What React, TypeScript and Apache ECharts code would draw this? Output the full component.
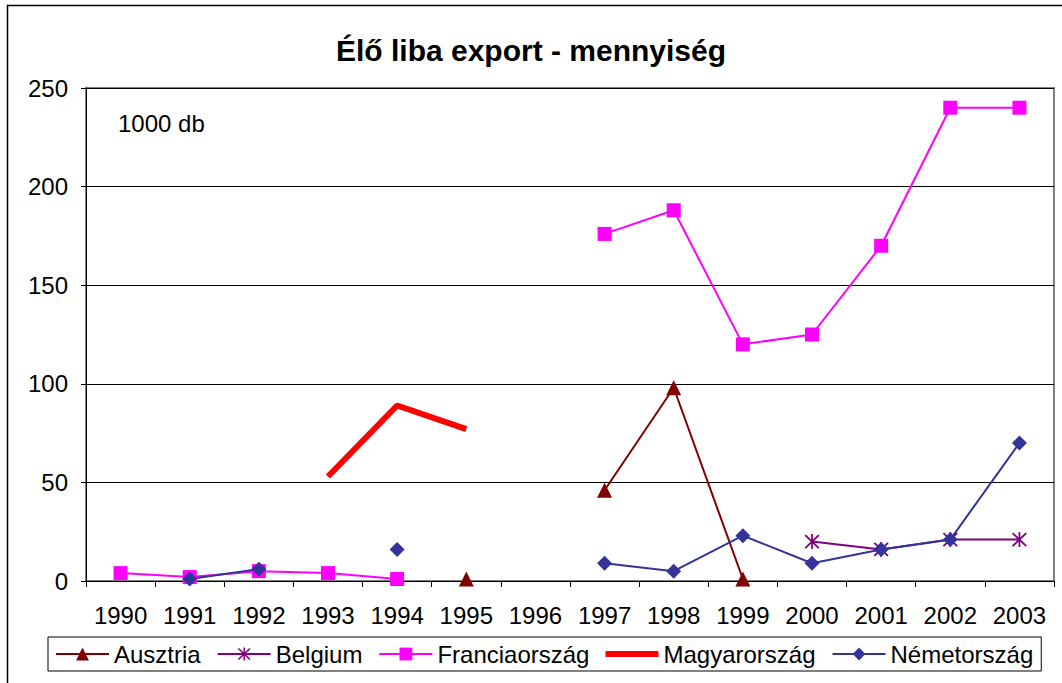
import React, { useEffect, useRef } from "react";
import * as echarts from "echarts";

const years = ["1990","1991","1992","1993","1994","1995","1996","1997","1998","1999","2000","2001","2002","2003"];
const ausztria = [null, null, null, null, null, 1, null, 46, 98, 1, null, null, null, null];
const belgium = [null, null, null, null, null, null, null, null, null, null, 20, 16, 21, 21];
const francia = [4, 2, 5, 4, 1, null, null, 176, 188, 120, 125, 170, 240, 240];
const magyar = [null, null, null, 53, 89, 77, null, null, null, null, null, null, null, null];
const nemet = [null, 1, 6, null, 16, null, null, 9, 5, 23, 9, 16, 21, 70];

const FONT = "'Liberation Sans', Arial, sans-serif";
const asterisk =
  "path://M9 1H11V19H9Z M1.5 3L3 1.5L18.5 17L17 18.5Z M17 1.5L18.5 3L3 18.5L1.5 17Z";

export default function App() {
  const ref = useRef<HTMLDivElement>(null);
  useEffect(() => {
    const chart = echarts.init(ref.current!, null, { renderer: "svg" });
    chart.setOption({
      animation: false,
      backgroundColor: "#fff",
      textStyle: { fontFamily: FONT },
      title: {
        text: "Élő liba export - mennyiség",
        left: "center",
        top: 30,
        textStyle: { fontSize: 30, fontWeight: "bold", color: "#000", fontFamily: FONT },
      },
      graphic: [
        {
          type: "rect",
          shape: { x: 7.5, y: 5.5, width: 1070, height: 690 },
          style: { fill: "none", stroke: "#000", lineWidth: 1.5 },
          silent: true,
        },
        {
          type: "text",
          left: 118,
          top: 111,
          style: { text: "1000 db", font: `24px ${FONT}`, fill: "#000" },
        },
      ],
      grid: {
        left: 86,
        right: 8,
        top: 88,
        bottom: 102,
        show: true,
        borderColor: "#808080",
        borderWidth: 2,
        backgroundColor: "transparent",
      },
      legend: {
        top: 637,
        left: 48,
        itemWidth: 53,
        itemHeight: 16,
        itemGap: 16,
        padding: [5, 8, 5, 7],
        borderColor: "#000",
        borderWidth: 1,
        borderRadius: 0,
        textStyle: { fontSize: 24, color: "#000", fontFamily: FONT, padding: [0, 0, 0, 0] },
        data: [
          "Ausztria",
          "Belgium",
          "Franciaország",
          { name: "Magyarország", icon: "path://M0 0H53V6H0Z", symbolKeepAspect: true },
          "Németország",
        ],
      },
      xAxis: {
        type: "category",
        data: years,
        boundaryGap: true,
        axisLine: { lineStyle: { color: "#000", width: 1 } },
        axisTick: { show: true, interval: 0, length: 6, lineStyle: { color: "#000" } },
        axisLabel: { fontSize: 24, color: "#000", margin: 22, fontFamily: FONT, interval: 0 },
      },
      yAxis: {
        type: "value",
        min: 0,
        max: 250,
        interval: 50,
        axisLine: { show: true, lineStyle: { color: "#000", width: 1 } },
        axisTick: { show: true, length: 5, lineStyle: { color: "#000" } },
        axisLabel: { fontSize: 24, color: "#000", margin: 18, fontFamily: FONT },
        splitLine: { show: true, lineStyle: { color: "#000", width: 1 } },
      },
      series: [
        {
          name: "Ausztria",
          type: "line",
          data: ausztria,
          color: "#800000",
          symbol: "triangle",
          symbolSize: 15,
          lineStyle: { width: 2, color: "#800000" },
          itemStyle: { color: "#800000" },
        },
        {
          name: "Belgium",
          type: "line",
          data: belgium,
          color: "#800080",
          symbol: asterisk,
          symbolSize: 15,
          lineStyle: { width: 2, color: "#800080" },
          itemStyle: { color: "#800080" },
        },
        {
          name: "Franciaország",
          type: "line",
          data: francia,
          color: "#FF00FF",
          symbol: "rect",
          symbolSize: 14,
          lineStyle: { width: 2, color: "#FF00FF" },
          itemStyle: { color: "#FF00FF" },
        },
        {
          name: "Magyarország",
          type: "line",
          data: magyar,
          color: "#FF0000",
          symbol: "none",
          lineStyle: { width: 6, color: "#FF0000" },
          itemStyle: { color: "#FF0000" },
        },
        {
          name: "Németország",
          type: "line",
          data: nemet,
          color: "#333399",
          symbol: "diamond",
          symbolSize: 15,
          lineStyle: { width: 2, color: "#333399" },
          itemStyle: { color: "#333399" },
        },
      ],
    });
    return () => chart.dispose();
  }, []);
  return (
    <div
      ref={ref}
      style={{ position: "fixed", left: 0, top: 0, width: 1062, height: 683 }}
    />
  );
}
